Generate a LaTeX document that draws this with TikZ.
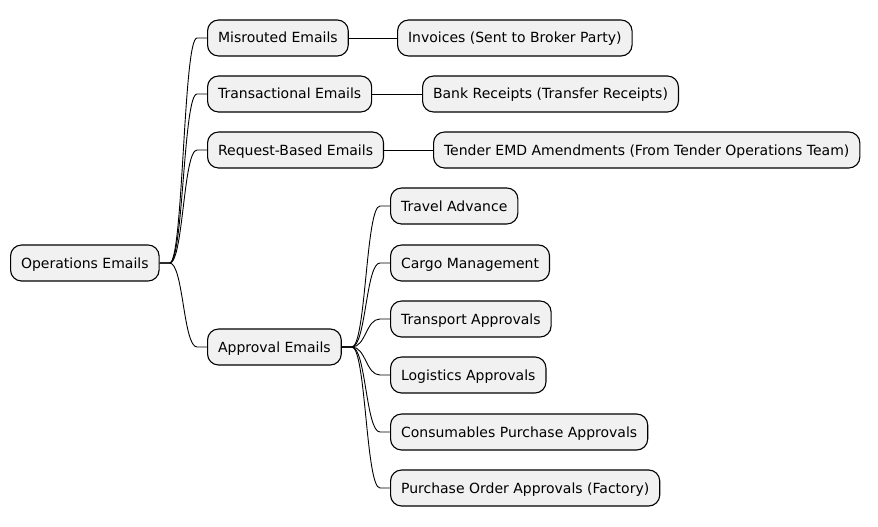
\documentclass[tikz,border=0pt]{standalone}
\usepackage{fontspec}
\setmainfont{DejaVu Sans}
\usetikzlibrary{calc}
\definecolor{boxfill}{HTML}{F1F1F1}
\tikzset{
  mm/.style={draw=black, line width=1.1pt, fill=boxfill, rounded corners=11pt,
    anchor=west, minimum height=36pt, inner xsep=10.5pt, inner ysep=0pt,
    font=\fontsize{14}{16}\selectfont, text height=12pt, text depth=2pt},
  conn/.style={draw=black, line width=0.9pt}
}
\newcommand{\mmbranch}[2]{%
  \draw[conn] let \p1=(#1.east), \p2=(#2.west) in
    (\p1) -- (\x1+10pt,\y1) .. controls ({0.5*\x1+0.5*\x2},\y1) and ({0.5*\x1+0.5*\x2},\y2) .. (\x2-10pt,\y2) -- (\p2);}
\begin{document}
\begin{tikzpicture}[x=1pt,y=-1pt]
\useasboundingbox (0,0) rectangle (878,527);
\node[mm] (root) at (10,263) {Operations Emails};
\node[mm] (mis) at (207,38) {Misrouted Emails};
\node[mm] (inv) at (397,38) {Invoices (Sent to Broker Party)};
\node[mm] (tra) at (207,94) {Transactional Emails};
\node[mm] (bank) at (422,94) {Bank Receipts (Transfer Receipts)};
\node[mm] (req) at (207,150) {Request-Based Emails};
\node[mm] (tender) at (433,150) {Tender EMD Amendments (From Tender Operations Team)};
\node[mm] (app) at (207,347) {Approval Emails};
\node[mm] (c1) at (390,206) {Travel Advance};
\node[mm] (c2) at (390,263) {Cargo Management};
\node[mm] (c3) at (390,319) {Transport Approvals};
\node[mm] (c4) at (390,375) {Logistics Approvals};
\node[mm] (c5) at (390,432) {Consumables Purchase Approvals};
\node[mm] (c6) at (390,488) {Purchase Order Approvals (Factory)};
\mmbranch{root}{mis}
\mmbranch{root}{tra}
\mmbranch{root}{req}
\mmbranch{root}{app}
\draw[conn] (mis.east) -- (inv.west);
\draw[conn] (tra.east) -- (bank.west);
\draw[conn] (req.east) -- (tender.west);
\mmbranch{app}{c1}
\mmbranch{app}{c2}
\mmbranch{app}{c3}
\mmbranch{app}{c4}
\mmbranch{app}{c5}
\mmbranch{app}{c6}
\end{tikzpicture}
\end{document}
